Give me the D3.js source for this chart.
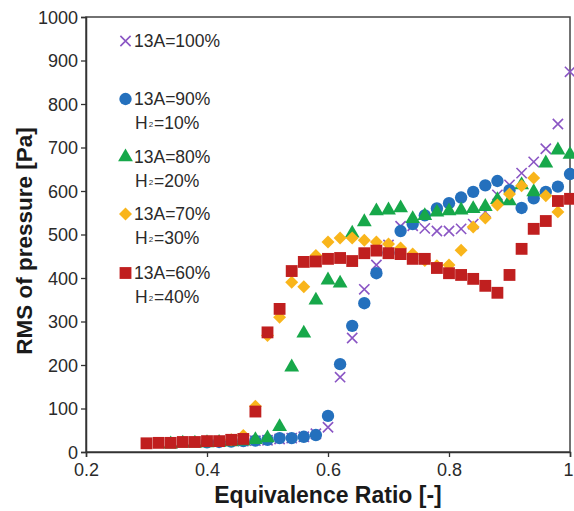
<!DOCTYPE html>
<html>
<head>
<meta charset="utf-8">
<script src="https://cdn.jsdelivr.net/npm/d3@7"></script>
<style>
  html, body { margin: 0; padding: 0; background: #fff; }
  svg { display: block; font-family: "Liberation Sans", Arial, Helvetica, sans-serif; }
</style>
</head>
<body>
<svg id="chart" width="574" height="511"></svg>
<script>
// Equivalence ratio (x) and RMS pressure [Pa] (y) for each fuel blend
const phi100 = [0.46,0.48,0.50,0.52,0.54,0.56,0.58,0.60,0.62,0.64,0.66,0.68,0.70,0.72,0.74,0.76,0.78,0.80,0.82,0.84,0.86,0.88,0.90,0.92,0.94,0.96,0.98,1.00];
const rms100 = [25,26,27,30,32,35,42,57,172,262,374,430,476,519,520,514,508,508,513,524,552,591,614,641,667,697,754,874];

const phi90 = [0.40,0.42,0.44,0.46,0.48,0.50,0.52,0.54,0.56,0.58,0.60,0.62,0.64,0.66,0.68,0.70,0.72,0.74,0.76,0.78,0.80,0.82,0.84,0.86,0.88,0.90,0.92,0.94,0.96,0.98,1.00];
const rms90 = [22,23,24,25,26,28,32,32,35,39,83,202,290,342,411,458,508,524,544,560,572,585,598,613,623,602,561,583,598,610,639];

const phi80 = [0.34,0.36,0.38,0.40,0.42,0.44,0.46,0.48,0.50,0.52,0.54,0.56,0.58,0.60,0.62,0.64,0.66,0.68,0.70,0.72,0.74,0.76,0.78,0.80,0.82,0.84,0.86,0.88,0.90,0.92,0.94,0.96,0.98,1.00];
const rms80 = [18,20,20,21,22,23,25,28,32,58,195,273,349,395,388,503,529,554,556,561,536,543,551,554,556,559,564,580,577,614,598,664,694,684];

const phi70 = [0.44,0.46,0.48,0.50,0.52,0.54,0.56,0.58,0.60,0.62,0.64,0.66,0.68,0.70,0.72,0.74,0.76,0.78,0.80,0.82,0.84,0.86,0.88,0.90,0.92,0.94,0.96,0.98];
const rms70 = [28,38,105,268,310,390,380,452,483,492,492,487,483,478,469,455,440,428,430,464,517,538,568,593,612,630,589,552];

const phi60 = [0.30,0.32,0.34,0.36,0.38,0.40,0.42,0.44,0.46,0.48,0.50,0.52,0.54,0.56,0.58,0.60,0.62,0.64,0.66,0.68,0.70,0.72,0.74,0.76,0.78,0.80,0.82,0.84,0.86,0.88,0.90,0.92,0.94,0.96,0.98,1.00];
const rms60 = [20,21,21,23,23,25,25,28,30,93,275,329,416,437,438,444,446,439,457,463,457,455,444,444,423,411,407,398,382,366,407,467,513,531,577,582];

const xTicks = [0.2, 0.4, 0.6, 0.8, 1.0];
const yTicks = [0, 100, 200, 300, 400, 500, 600, 700, 800, 900, 1000];

const seriesNames = ["13A=100%", "13A=90%", "13A=80%", "13A=70%", "13A=60%"];
const h2Names = [null, "=10%", "=20%", "=30%", "=40%"];

const series = [
  { name: seriesNames[0], h2: h2Names[0], phi: phi100, rms: rms100, symbol: "cross",    color: "#8a55c4" },
  { name: seriesNames[1], h2: h2Names[1], phi: phi90,  rms: rms90,  symbol: "circle",   color: "#2470bd" },
  { name: seriesNames[2], h2: h2Names[2], phi: phi80,  rms: rms80,  symbol: "triangle", color: "#17a84a" },
  { name: seriesNames[3], h2: h2Names[3], phi: phi70,  rms: rms70,  symbol: "diamond",  color: "#f9b51b" },
  { name: seriesNames[4], h2: h2Names[4], phi: phi60,  rms: rms60,  symbol: "square",   color: "#c01f1f" }
];

const svg = d3.select("#chart");
const plot = { left: 86, right: 570, top: 17, bottom: 452 };

const x = d3.scaleLinear().domain([0.2, 1.0]).range([plot.left, plot.right]);
const y = d3.scaleLinear().domain([0, 1000]).range([plot.bottom, plot.top]);

// Square diamond (a square turned 45 degrees)
const symbolRhombus = {
  draw(context, size) {
    const r = Math.sqrt(size / 2);
    context.moveTo(0, -r);
    context.lineTo(r, 0);
    context.lineTo(0, r);
    context.lineTo(-r, 0);
    context.closePath();
  }
};

const symbols = {
  cross: d3.symbol().type(d3.symbolTimes).size(70),
  circle: d3.symbol().type(d3.symbolCircle).size(120),
  triangle: d3.symbol().type(d3.symbolTriangle).size(95),
  diamond: d3.symbol().type(symbolRhombus).size(84),
  square: d3.symbol().type(d3.symbolSquare).size(140)
};

function styleMark(sel, s) {
  if (s.symbol === "cross") {
    sel.attr("fill", "none").attr("stroke", s.color).attr("stroke-width", 1.6);
  } else {
    sel.attr("fill", s.color).attr("stroke", "none");
  }
}

// Plot frame
svg.append("rect")
  .attr("x", plot.left).attr("y", plot.top)
  .attr("width", plot.right - plot.left).attr("height", plot.bottom - plot.top)
  .attr("fill", "none").attr("stroke", "#444").attr("stroke-width", 1.5);

// Axes
const xAxis = svg.append("g")
  .attr("transform", `translate(0,${plot.bottom})`)
  .call(d3.axisBottom(x).tickValues(xTicks).tickSize(5).tickPadding(5)
    .tickFormat(d => d === 1 ? "1" : d3.format(".1f")(d)));
const yAxis = svg.append("g")
  .attr("transform", `translate(${plot.left},0)`)
  .call(d3.axisLeft(y).tickValues(yTicks).tickSize(5).tickPadding(3)
    .tickFormat(d3.format("d")));

[xAxis, yAxis].forEach(g => {
  g.select(".domain").attr("stroke", "#333").attr("stroke-width", 1.5);
  g.selectAll(".tick line").attr("stroke", "#333").attr("stroke-width", 1.3);
  g.selectAll(".tick text")
    .attr("fill", "#2a2a2a")
    .attr("font-size", 18)
    .attr("font-family", "'Liberation Sans', Arial, sans-serif");
});
xAxis.selectAll(".tick text").attr("dy", "0.8em");
// keep the last x label inside the page edge
xAxis.selectAll(".tick text").filter(d => d === 1).attr("dx", -2);
yAxis.selectAll(".tick text").attr("dy", "0.35em");

// Data markers
series.forEach(s => {
  const pts = s.phi.map((p, i) => ({ p, v: s.rms[i] }));
  const g = svg.append("g").attr("class", "series");
  g.selectAll("path")
    .data(pts)
    .join("path")
    .attr("d", symbols[s.symbol])
    .attr("transform", d => `translate(${x(d.p)},${y(d.v)})`)
    .call(sel => styleMark(sel, s));
});

// Legend
const legendRows = [41, 99, 157, 214, 273];
const legend = svg.append("g").attr("class", "legend");
series.forEach((s, i) => {
  const cy = legendRows[i];
  legend.append("path")
    .attr("d", symbols[s.symbol])
    .attr("transform", `translate(125.5,${cy})`)
    .call(sel => styleMark(sel, s));
  legend.append("text")
    .attr("x", 134).attr("y", cy + 6)
    .attr("font-size", 17.5).attr("fill", "#2a2a2a")
    .text(s.name);
  if (s.h2) {
    const t = legend.append("text")
      .attr("x", 135).attr("y", cy + 30)
      .attr("font-size", 17.5).attr("fill", "#2a2a2a");
    t.append("tspan").text("H");
    t.append("tspan").attr("font-size", 8).attr("dy", -2).attr("dx", 1).text("2");
    t.append("tspan").attr("dy", 2).attr("dx", 1).text(s.h2);
  }
});

// Axis titles
svg.append("text")
  .attr("x", (plot.left + plot.right) / 2).attr("y", 503)
  .attr("text-anchor", "middle")
  .attr("font-size", 23).attr("font-weight", "bold").attr("fill", "#1a1a1a")
  .text("Equivalence Ratio [-]");

svg.append("text")
  .attr("transform", "translate(32,241) rotate(-90)")
  .attr("text-anchor", "middle")
  .attr("font-size", 22.5).attr("font-weight", "bold").attr("fill", "#1a1a1a")
  .text("RMS of pressure [Pa]");
</script>
</body>
</html>
